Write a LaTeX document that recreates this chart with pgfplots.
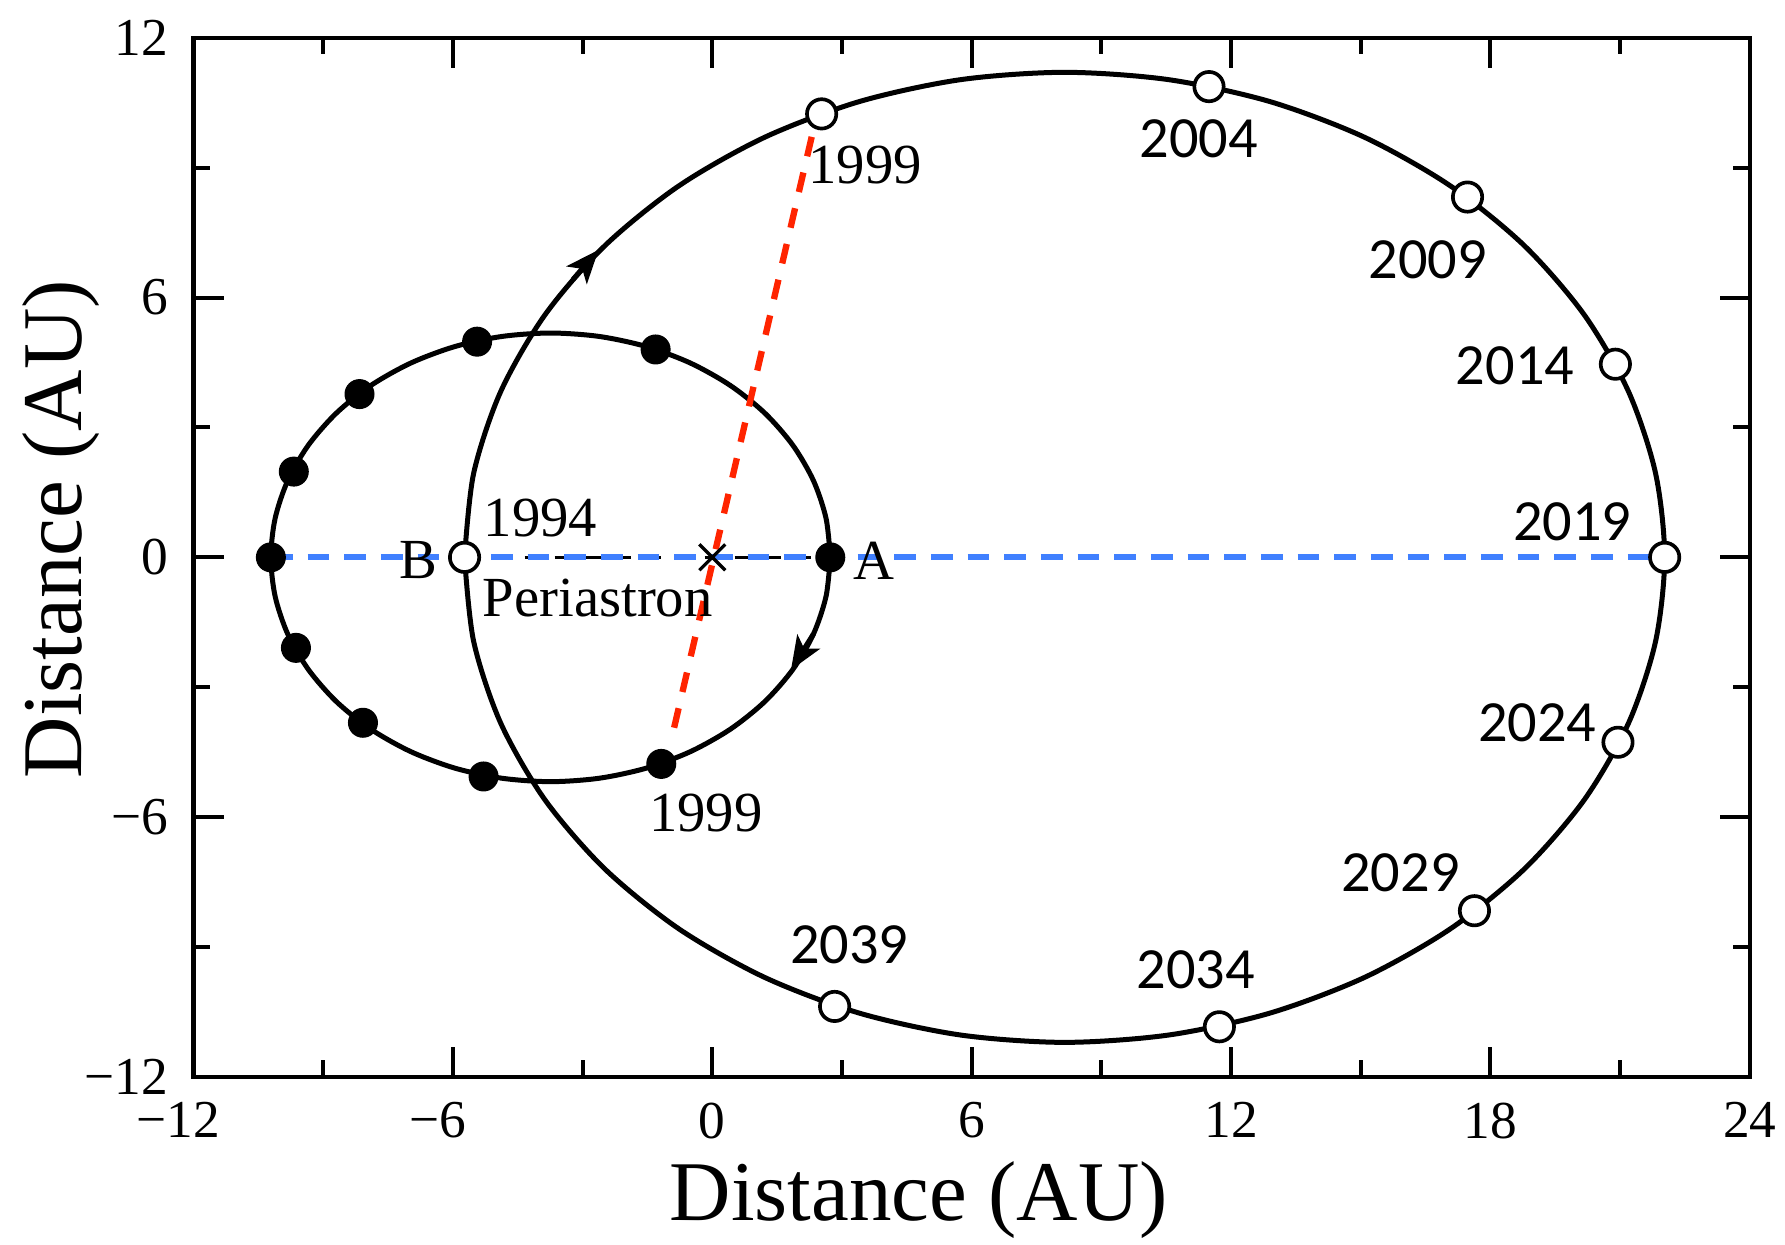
\documentclass[border=0pt]{standalone}
\usepackage{pgfplots}
\pgfplotsset{compat=1.18}
\usepackage{fontspec}
\setmainfont{Liberation Serif}
\newfontfamily\calibri{Carlito}
\usetikzlibrary{arrows.meta}
\definecolor{dashblue}{RGB}{64,128,255}
\definecolor{dashred}{RGB}{255,36,0}
\begin{document}
\begin{tikzpicture}
\path[use as bounding box] (-58.05pt,-50.1pt) rectangle (477.45pt,323.1pt);
\begin{axis}[
  at={(0,0)}, anchor=south west,
  width=466.9pt, height=311.8pt, scale only axis,
  xmin=-12, xmax=24, ymin=-12, ymax=12,
  xtick={-12,-6,0,6,12,18,24}, ytick={-12,-6,0,6,12},
  xticklabels={\llap{−}12,\llap{−}6,0,6,12,18,24},
  yticklabels={−12,−6,0,6,12},
  minor x tick num=1, minor y tick num=1,
  tick align=inside, major tick length=9pt, minor tick length=5pt,
  axis line style={line width=1.3pt},
  every tick/.style={black, line width=1.2pt},
  tick label style={font=\fontsize{16}{16}\selectfont, inner sep=0pt},
  xticklabel style={yshift=-7.5pt},
  yticklabel style={xshift=-7.5pt},
  xlabel={Distance (AU)}, ylabel={Distance (AU)},
  label style={font=\fontsize{25.5}{26}\selectfont},
  xlabel style={at={(axis description cs:0.466,-0.1376)}, anchor=base},
  ylabel style={at={(axis description cs:-0.0718,0.527)}, anchor=base, rotate=0},
  clip=false,
]
% small orbit (star A)
\addplot[black, line width=1.5pt, smooth] coordinates {
(2.73,0) (2.632,0.899) (2.340,1.772) (1.863,2.59) (1.216,3.330) (0.419,3.968) (-0.505,4.486) (-1.527,4.868) (-2.617,5.101) (-3.74,5.18) (-4.863,5.101) (-5.953,4.868) (-6.975,4.486) (-7.899,3.968) (-8.696,3.330) (-9.343,2.59) (-9.820,1.772) (-10.112,0.899) (-10.21,0) (-10.112,-0.899) (-9.820,-1.772) (-9.343,-2.59) (-8.696,-3.330) (-7.899,-3.968) (-6.975,-4.486) (-5.953,-4.868) (-4.863,-5.101) (-3.74,-5.18) (-2.617,-5.101) (-1.527,-4.868) (-0.505,-4.486) (0.419,-3.968) (1.216,-3.330) (1.863,-2.59) (2.340,-1.772) (2.632,-0.899) (2.73,0)};
% large orbit (star B)
\addplot[black, line width=1.5pt, smooth] coordinates {
(-5.73,0) (-5.519,1.944) (-4.893,3.830) (-3.870,5.6) (-2.482,7.199) (-0.772,8.579) (1.21,9.699) (3.403,10.525) (5.740,11.030) (8.15,11.2) (10.560,11.030) (12.897,10.525) (15.09,9.699) (17.072,8.579) (18.782,7.199) (20.170,5.6) (21.193,3.830) (21.819,1.944) (22.03,0) (21.819,-1.944) (21.193,-3.830) (20.170,-5.6) (18.782,-7.199) (17.072,-8.579) (15.09,-9.699) (12.897,-10.525) (10.560,-11.030) (8.15,-11.2) (5.740,-11.030) (3.403,-10.525) (1.21,-9.699) (-0.772,-8.579) (-2.482,-7.199) (-3.870,-5.6) (-4.893,-3.830) (-5.519,-1.944) (-5.73,0)};
% direction arrows
\addplot[black, line width=1.5pt, -{Stealth[length=10pt,width=8pt,inset=2.5pt]}] coordinates {(-3.22,6.42) (-2.63,7.10)};
\addplot[black, line width=1.5pt, -{Stealth[length=10pt,width=8pt,inset=2.5pt]}] coordinates {(2.34,-1.77) (1.82,-2.60)};
% black dashed B--A
\addplot[black, line width=0.8pt, dash pattern=on 5pt off 4pt] coordinates {(-5.73,0) (2.73,0)};
% filled dots on small orbit
\addplot[only marks, mark=*, mark size=4.3pt, mark options={fill=black, draw=black}] coordinates {
(-10.21,0) (-9.68,1.98) (-8.16,3.77) (-5.44,4.98) (-1.31,4.80) (2.73,0) (-1.18,-4.77) (-5.29,-5.06) (-8.08,-3.82) (-9.63,-2.09)};
% open circles on large orbit
\addplot[only marks, mark=*, mark size=4.4pt, mark options={fill=white, draw=black, line width=1.1pt}] coordinates {
(-5.73,0) (2.53,10.24) (11.49,10.87) (17.47,8.32) (20.89,4.46) (22.03,0) (20.95,-4.27) (17.63,-8.16) (11.73,-10.84) (2.83,-10.37)};
% centre of mass
\addplot[only marks, mark=x, mark size=5.5pt, mark options={line width=1pt, black}] coordinates {(0,0)};
% blue dashed line of apsides
\addplot[dashblue, line width=1.8pt, dash pattern=on 6.5pt off 4.5pt] coordinates {(-10.21,0) (22.03,0)};
% red dashed 1999 line
\addplot[dashred, line width=1.9pt, dash pattern=on 6pt off 5pt] coordinates {(2.30,9.71) (-0.94,-4.18)};
% labels
\begin{scope}[every node/.style={font=\fontsize{17}{17}\selectfont, inner sep=0pt}]
\node at (axis cs:-3.97,0.91) {1994};
\node at (axis cs:-2.65,-0.93) {Periastron};
\node at (axis cs:-6.79,-0.07) {B};
\node at (axis cs:3.75,-0.07) {A};
\node at (axis cs:3.54,9.06) {1999};
\node at (axis cs:-0.15,-5.90) {1999};
\end{scope}
\begin{scope}[every node/.style={font=\calibri\fontsize{17.5}{17.5}\selectfont, inner sep=0pt}]
\node at (axis cs:11.25,9.66) {2004};
\node at (axis cs:16.55,6.87) {2009};
\node at (axis cs:18.57,4.43) {2014};
\node at (axis cs:19.89,0.83) {2019};
\node at (axis cs:19.08,-3.82) {2024};
\node at (axis cs:15.92,-7.29) {2029};
\node at (axis cs:11.18,-9.53) {2034};
\node at (axis cs:3.17,-8.95) {2039};
\end{scope}
\end{axis}
\end{tikzpicture}
\end{document}
